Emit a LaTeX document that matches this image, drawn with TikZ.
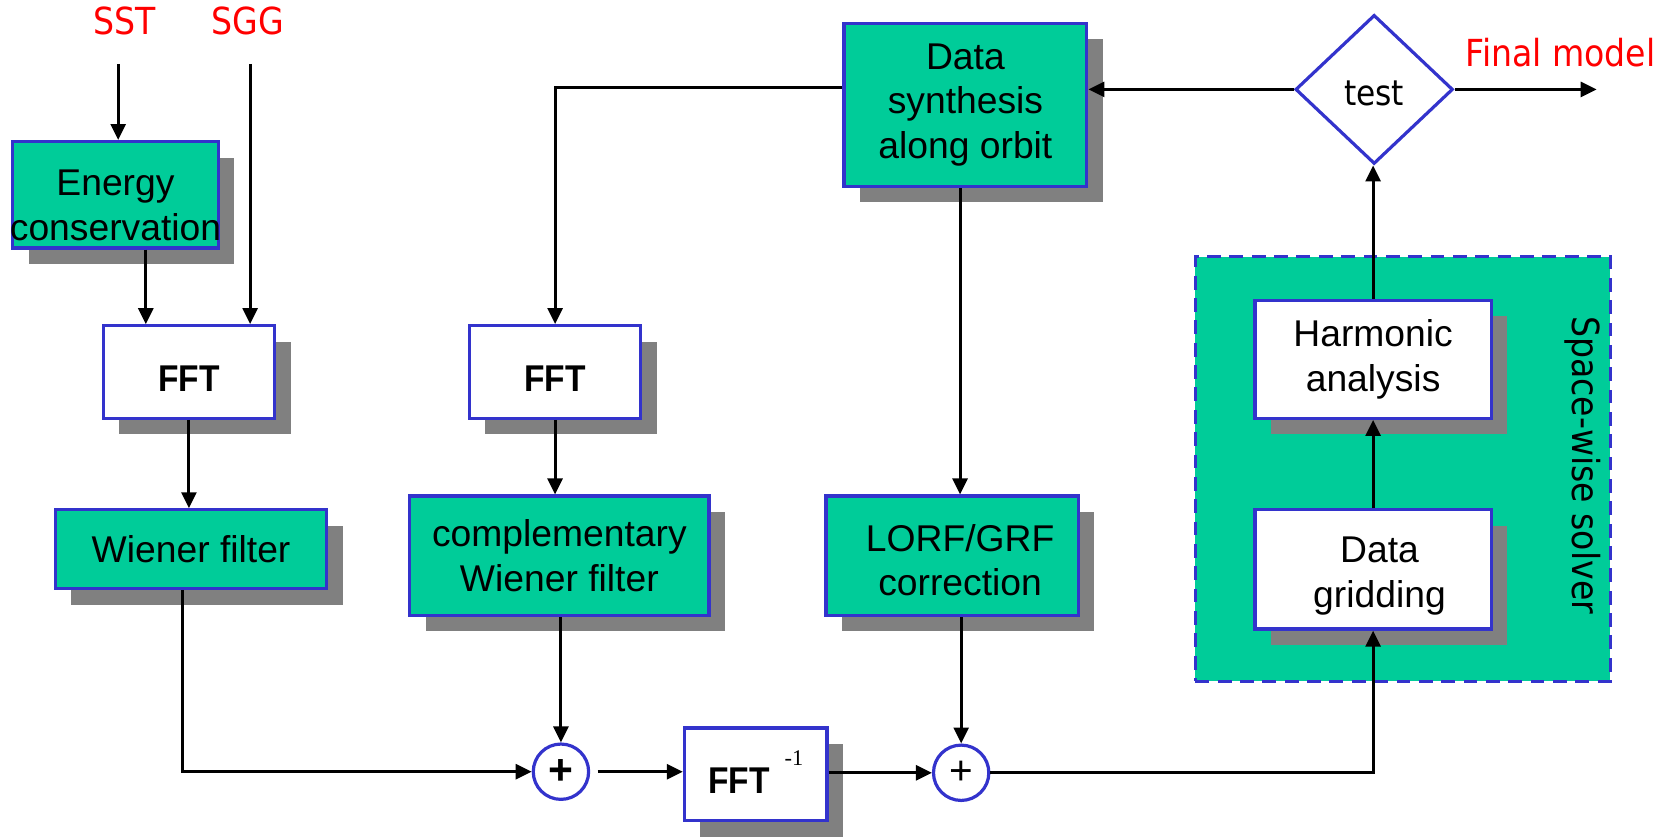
\documentclass[tikz,border=0pt]{standalone}
\usepackage{fontspec}
\setmainfont{Liberation Sans}
\newfontfamily\fftfont{Liberation Sans}[FakeStretch=0.9]
\newfontfamily\labelfont{DejaVu Sans}[FakeStretch=0.89]
\newfontfamily\supfont{Liberation Serif}
\usetikzlibrary{arrows.meta,shapes.geometric,shadows}

\definecolor{boxgreen}{HTML}{00CC99}
\definecolor{boxblue}{HTML}{3333CC}
\definecolor{shadowgray}{HTML}{808080}
\definecolor{labelred}{HTML}{FF0000}

% a strut on the first line of a label, to set the text a little lower in its box
\newcommand\toppad[1]{\rule{0pt}{#1}}
% a line of text that may run over the edges of its box
\newcommand\overrun[1]{\makebox[0pt]{#1}}

\tikzset{
  block/.style={draw=boxblue, line width=1.5pt, inner sep=0pt, align=center,
    drop shadow={shadow xshift=7.5pt, shadow yshift=-7.5pt, fill=shadowgray, opacity=1},
    font=\fontsize{17.5pt}{21pt}\selectfont},
  greenblock/.style={block, fill=boxgreen},
  whiteblock/.style={block, fill=white},
  fftblock/.style={whiteblock, font=\fftfont\bfseries\fontsize{17.5pt}{21pt}\selectfont},
  sumnode/.style={circle, draw=boxblue, line width=1.5pt, fill=white,
    minimum size=26pt, inner sep=0pt, font=\fontsize{19pt}{19pt}\selectfont},
  arr/.style={draw=black, line width=1.4pt, -{Triangle[length=7.5pt,width=7pt]}},
  redlabel/.style={text=labelred, font=\labelfont\fontsize{17.5pt}{20pt}\selectfont, inner sep=0pt},
}

\begin{document}
\begin{tikzpicture}[x=0.5pt, y=-0.5pt]
  \useasboundingbox (0,0) rectangle (1568,786);

  % space-wise solver group
  \node[draw=boxblue, line width=1.3pt, dash pattern=on 6.5pt off 4pt, fill=boxgreen,
        minimum width=195pt, minimum height=199.5pt, inner sep=0pt] (solver) at (1318,440.5) {};
  \node[rotate=-90, font=\labelfont\fontsize{17.5pt}{20pt}\selectfont, inner sep=0pt]
        (solverlabel) at (1487,437) {Space-wise solver};

  % input and output labels
  \node[redlabel] (sst) at (117,20) {SST};
  \node[redlabel] (sgg) at (233,20) {SGG};
  \node[redlabel] (final) at (1466,49) {Final model};

  % blocks
  \node[greenblock, minimum width=96.5pt, minimum height=50pt] (energy) at (108.5,183)
       {\toppad{22pt}\overrun{Energy}\\\overrun{conservation}};
  \node[fftblock, minimum width=80.5pt, minimum height=43.5pt] (fft1) at (177.5,349.5)
       {\toppad{18pt}FFT};
  \node[greenblock, minimum width=127.5pt, minimum height=37pt] (wiener) at (179.5,516)
       {Wiener filter};
  \node[fftblock, minimum width=80.5pt, minimum height=43.5pt] (fft2) at (521.5,349.5)
       {\toppad{18pt}FFT};
  \node[greenblock, minimum width=140.5pt, minimum height=56pt] (cwiener) at (525.5,522)
       {complementary\\Wiener filter};
  \node[greenblock, minimum width=114pt, minimum height=76.5pt] (synth) at (907,98.5)
       {Data\\synthesis\\along orbit};
  \node[greenblock, minimum width=118.5pt, minimum height=56pt] (lorf) at (894.5,522)
       {\toppad{17pt}\hspace*{7.5pt}LORF/GRF\\\hspace*{7.5pt}correction};
  \node[whiteblock, minimum width=67pt, minimum height=43.5pt] (ifft) at (710,727.5)
       {\toppad{18pt}{\fftfont\bfseries FFT}\hspace{7pt}\smash{\raisebox{13pt}{\supfont\fontsize{10.5pt}{10.5pt}\selectfont -1}}};
  \node[whiteblock, minimum width=111pt, minimum height=55.5pt] (harmonic) at (1290,337.5)
       {Harmonic\\analysis};
  \node[whiteblock, minimum width=111pt, minimum height=56pt] (gridding) at (1290,535)
       {\toppad{18.5pt}\hspace*{6pt}Data\\\hspace*{6pt}gridding};

  % summation points
  \node[sumnode, font=\bfseries\fontsize{20pt}{20pt}\selectfont] (plus1) at (527,725) {+};
  \node[sumnode] (plus2) at (903,726) {+};

  % convergence test
  \node[diamond, draw=boxblue, line width=1.5pt, fill=white, inner sep=0pt,
        minimum width=74pt, minimum height=70pt,
        font=\labelfont\fontsize{16.5pt}{20pt}\selectfont] (test) at (1291,84) {\toppad{15pt}test};

  % free ends
  \coordinate (sstin) at (111,60);
  \coordinate (sggin) at (235,60);
  \coordinate (finalend) at (1500,84);

  % connectors
  \draw[arr] (sstin) -- (sstin |- energy.north);
  \draw[arr] (sggin) -- (sggin |- fft1.north);
  \draw[arr] ([xshift=14.25pt]energy.south) -- ([xshift=14.25pt]energy.south |- fft1.north);
  \draw[arr] (fft1.south) -- (fft1.south |- wiener.north);
  \draw[arr] ([xshift=-4.25pt]wiener.south) |- (plus1.west);
  \draw[arr] ([yshift=8.25pt]synth.west) -| (fft2.north);
  \draw[arr] (fft2.south) -- (fft2.south |- cwiener.north);
  \draw[arr] (cwiener.south -| plus1.north) -- (plus1.north);
  \draw[arr] ([xshift=-2.5pt]synth.south) -- ([xshift=-2.5pt]synth.south |- lorf.north);
  \draw[arr] (lorf.south -| plus2.north) -- (plus2.north);
  \draw[arr, shorten <=3.5pt] (plus1.east) -- (plus1.east -| ifft.west);
  \draw[arr] (ifft.east |- plus2.west) -- (plus2.west);
  \draw[arr] (plus2.east) -| (gridding.south);
  \draw[arr] (gridding.north) -- (harmonic.south);
  \draw[arr] (harmonic.north) -- (harmonic.north |- test.south);
  \draw[arr] (test.west) -- (test.west -| synth.east);
  \draw[arr] (test.east) -- (finalend);
\end{tikzpicture}
\end{document}
